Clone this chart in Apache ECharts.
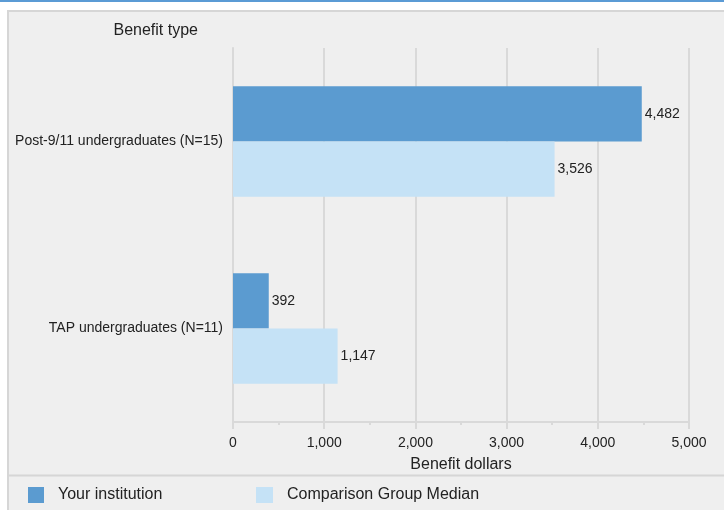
<!DOCTYPE html>
<html>
<head>
<meta charset="utf-8">
<script src="https://cdn.jsdelivr.net/npm/echarts@6/dist/echarts.min.js"></script>
<style>
html,body{margin:0;padding:0;background:#fff;}
#chart{width:724px;height:510px;}
</style>
</head>
<body>
<div id="chart"></div>
<script>
const categories = ['Post-9/11 undergraduates (N=15)', 'TAP undergraduates (N=11)'];
const seriesNames = ['Your institution', 'Comparison Group Median'];
const yourInstitution = [4482, 392];
const comparisonMedian = [3526, 1147];
const xTicks = [0, 1000, 2000, 3000, 4000, 5000];

const FONT = '"Liberation Sans", Arial, sans-serif';
const DARK = '#5b9bd0';
const LIGHT = '#c5e2f6';
const GRIDC = '#d9d9d9';
const TXT = '#222';

const chart = echarts.init(document.getElementById('chart'), null, {renderer: 'canvas'});

const fmt = v => Number(v).toLocaleString('en-US');

const option = {
  backgroundColor: '#ffffff',
  animation: false,
  textStyle: {fontFamily: FONT},
  graphic: [
    {type: 'rect', z: -10, silent: true, shape: {x: 0, y: 0, width: 724, height: 2}, style: {fill: '#5b9bd5'}},
    {type: 'rect', z: -10, silent: true, shape: {x: 8, y: 11, width: 720, height: 505}, style: {fill: '#efefef', stroke: '#d6d6d6', lineWidth: 2}},
    {type: 'line', z: -9, silent: true, shape: {x1: 8, y1: 475.5, x2: 724, y2: 475.5}, style: {stroke: '#d6d6d6', lineWidth: 2}}
  ],
  grid: {left: 233, right: 35, top: 48, bottom: 88, containLabel: false},
  legend: [
    {data: [seriesNames[0]], left: 28, top: 487, padding: 0, icon: 'rect', itemWidth: 16, itemHeight: 16,
     textStyle: {fontSize: 16, color: TXT, fontFamily: FONT, padding: [0, 0, 0, 9]}},
    {data: [seriesNames[1]], left: 256, top: 487, padding: 0, icon: 'rect', itemWidth: 17, itemHeight: 16,
     textStyle: {fontSize: 16, color: TXT, fontFamily: FONT, padding: [0, 0, 0, 9]}}
  ],
  xAxis: {
    type: 'value', min: xTicks[0], max: xTicks[xTicks.length - 1], interval: 1000,
    name: 'Benefit dollars', nameLocation: 'middle', nameGap: 35,
    nameTextStyle: {fontSize: 16, color: TXT, fontFamily: FONT},
    axisLine: {show: true, lineStyle: {color: GRIDC, width: 2}},
    axisTick: {show: true, length: 7, lineStyle: {color: GRIDC, width: 2}},
    minorTick: {show: true, splitNumber: 2, length: 3, lineStyle: {color: GRIDC, width: 2}},
    splitLine: {show: true, lineStyle: {color: GRIDC, width: 2}},
    axisLabel: {fontSize: 14, color: TXT, margin: 14, formatter: fmt, fontFamily: FONT}
  },
  yAxis: {
    type: 'category', data: categories, inverse: true,
    name: 'Benefit type', nameLocation: 'start', nameGap: 9,
    nameTextStyle: {fontSize: 16, color: TXT, align: 'right', padding: [0, 35, 0, 0], fontFamily: FONT},
    axisLine: {show: true, lineStyle: {color: GRIDC, width: 2}},
    axisTick: {show: false},
    axisLabel: {fontSize: 14, color: TXT, margin: 10, fontFamily: FONT}
  },
  series: [
    {name: seriesNames[0], type: 'bar', data: yourInstitution, barGap: '0%', barCategoryGap: '41%',
     itemStyle: {color: DARK},
     label: {show: true, position: 'right', distance: 3, fontSize: 14, color: TXT, formatter: p => fmt(p.value), fontFamily: FONT}},
    {name: seriesNames[1], type: 'bar', data: comparisonMedian, barGap: '0%', barCategoryGap: '41%',
     itemStyle: {color: LIGHT},
     label: {show: true, position: 'right', distance: 3, fontSize: 14, color: TXT, formatter: p => fmt(p.value), fontFamily: FONT}}
  ]
};
chart.setOption(option);
</script>
</body>
</html>
